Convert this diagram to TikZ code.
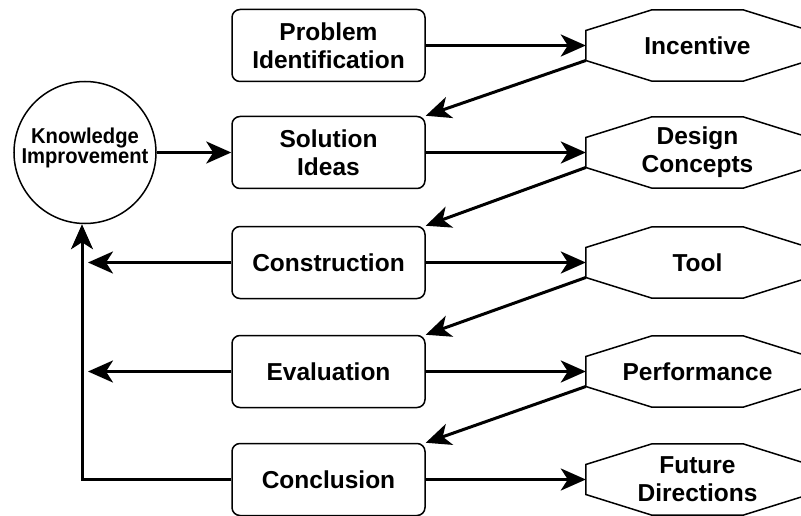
\documentclass[tikz,border=0pt]{standalone}
\usepackage{fontspec}
\setmainfont{Liberation Sans}
\newfontfamily\narrowsans[FakeStretch=0.94]{Liberation Sans}
\usetikzlibrary{arrows.meta,calc}
\newcommand{\boxfont}{\fontsize{24.5}{28}\selectfont\bfseries}
\newcommand{\kfont}{\narrowsans\fontsize{21.5}{20.5}\selectfont\bfseries}
\begin{document}
\begin{tikzpicture}[x=1pt,y=-1pt,
  box/.style={draw, line width=1.5pt, rounded corners=8pt, minimum width=193pt,
    minimum height=72pt, align=center, font=\boxfont, inner sep=0pt},
  oct/.style={minimum width=223pt, minimum height=71pt, align=center,
    font=\boxfont, inner sep=0pt},
  knode/.style={draw, circle, line width=1.5pt, minimum size=142pt,
    inner sep=0pt},
  link/.style={line width=3pt, -{Stealth[length=25pt,width=22pt,inset=7pt]}},
  octline/.style={line width=1.5pt, line join=miter}]
  \fill[white] (0,0) rectangle (801,516);
  \useasboundingbox (0,0) rectangle (801,516);
  \clip (0,0) rectangle (801,516);

  % centre circle and the five process steps
  \node[knode] (K) at (85,152.5) {};
  \node[align=center, font=\kfont, inner sep=0pt] (Kt) at (85,148)
    {Knowledge\\Improvement};
  \node[box] (pi) at (328.5,45.5)  {Problem\\Identification};
  \node[box] (si) at (328.5,152.5) {Solution\\Ideas};
  \node[box] (co) at (328.5,262.5) {Construction};
  \node[box] (ev) at (328.5,371.5) {Evaluation};
  \node[box] (cl) at (328.5,479.5) {Conclusion};

  % outcomes of each step
  \node[oct] (inc) at (697.5,45.5)  {Incentive};
  \node[oct] (dc)  at (697.5,152.5) {Design\\Concepts};
  \node[oct] (tl)  at (697.5,262.5) {Tool};
  \node[oct] (pf)  at (697.5,371.5) {Performance};
  \node[oct] (fd)  at (697.5,479.5) {Future\\Directions};

  % octagon outlines around the outcome nodes
  \foreach \n in {inc,dc,tl,pf,fd}{
    \draw[octline] ($(\n.west)+(0,-15)$) -- ($(\n.north)+(-45.5,0)$)
      -- ($(\n.north)+(45.5,0)$) -- ($(\n.east)+(0,-15)$)
      -- ($(\n.east)+(0,15)$) -- ($(\n.south)+(45.5,0)$)
      -- ($(\n.south)+(-45.5,0)$) -- ($(\n.west)+(0,15)$) -- cycle;
  }

  % step -> outcome
  \draw[link] (pi.east) -- (inc.west);
  \draw[link] (si.east) -- (dc.west);
  \draw[link] (co.east) -- (tl.west);
  \draw[link] (ev.east) -- (pf.west);
  \draw[link] (cl.east) -- (fd.west);

  % outcome -> next step
  \draw[link] ($(inc.west)+(0,15)$) -- (si.north east);
  \draw[link] ($(dc.west)+(0,15)$)  -- (co.north east);
  \draw[link] ($(tl.west)+(0,15)$)  -- (ev.north east);
  \draw[link] ($(pf.west)+(0,15)$)  -- (cl.north east);

  % knowledge feeds the solution ideas
  \draw[link] (K.east) -- (si.west);

  % feedback to knowledge
  \coordinate (tipx) at (88,0);
  \coordinate (rail) at (82,0);
  \draw[link] (co.west) -- (co.west -| tipx);
  \draw[link] (ev.west) -- (ev.west -| tipx);
  \draw[link] (cl.west) -- (cl.west -| rail) -- (rail |- K.south);
\end{tikzpicture}
\end{document}
